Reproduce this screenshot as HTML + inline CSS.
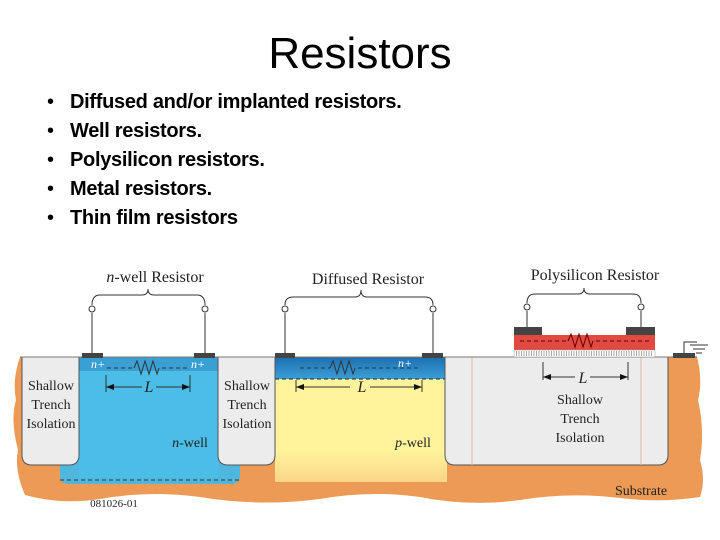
<!DOCTYPE html>
<html><head><meta charset="utf-8"><style>
body{margin:0;width:720px;height:540px;background:#fff;overflow:hidden;position:relative;font-family:"Liberation Sans",sans-serif}
h1{position:absolute;top:28px;left:0;width:720px;text-align:center;margin:0;font-weight:normal;font-size:44px;line-height:52px}
ul{position:absolute;top:90px;left:45px;margin:0;padding:0;list-style:none}
li{font-size:20px;font-weight:bold;height:29px;line-height:24px;position:relative;padding-left:25px;letter-spacing:-0.3px}
li:before{content:"•";position:absolute;left:2px;font-weight:normal}
svg{position:absolute;left:0;top:0}
</style></head><body>
<h1>Resistors</h1>
<ul><li>Diffused and/or implanted resistors.</li><li>Well resistors.</li><li>Polysilicon resistors.</li><li>Metal resistors.</li><li>Thin film resistors</li></ul>
<svg width="720" height="540" viewBox="0 0 720 540" font-family="Liberation Serif,serif">
<defs>
<linearGradient id="nb" x1="0" y1="0" x2="0" y2="1"><stop offset="0" stop-color="#1d6fb0"/><stop offset="1" stop-color="#3a9fd8"/></linearGradient>
<linearGradient id="yw" x1="0" y1="0" x2="0" y2="1"><stop offset="0.75" stop-color="#fff39c"/><stop offset="1" stop-color="#fbd58a"/></linearGradient>
</defs>
<path d="M20 357 L697 357 Q703 380 698 400 Q705 430 700 460 Q706 480 700 497 Q660 503 620 498 Q570 492 520 500 Q470 507 420 497 Q370 490 320 499 Q260 507 200 497 Q150 490 100 499 Q60 505 25 495 Q14 470 18 450 Q10 420 16 400 Q12 380 20 357Z" fill="#ec9a55"/>
<path d="M60 357 L240 357 L240 476 Q240 484 230 484 L70 484 Q60 484 60 476Z" fill="#4fb7dd"/>
<path d="M60 480 L240 480" stroke="#333" stroke-dasharray="4 3" fill="none"/>
<rect x="275" y="357" width="172" height="125" fill="url(#yw)"/>
<rect x="275" y="357" width="172" height="22" fill="url(#nb)"/>
<path d="M275 379 H447" stroke="#222" stroke-dasharray="4 3"/>
<rect x="79" y="357" width="139" height="121" fill="#4bbde6"/>
<rect x="79" y="357" width="139" height="14" fill="#3aa0d4"/>
<path d="M22 357 V455 Q22 465 32 465 H69 Q79 465 79 455 V357" fill="#ececec" stroke="#555"/>
<path d="M218 357 V455 Q218 465 228 465 H265 Q275 465 275 455 V357" fill="#ececec" stroke="#555"/>
<path d="M445 357 V455 Q445 465 455 465 H658 Q668 465 668 455 V357" fill="#ececec" stroke="#555"/>
<path d="M472 357V465M641 357V465" stroke="#e0b8a0"/>
<path d="M20 357H697" stroke="#777"/>
<g fill="#444"><rect x="82" y="353" width="21" height="5"/><rect x="194" y="353" width="21" height="5"/><rect x="275" y="353" width="20" height="5"/><rect x="422" y="353" width="21" height="5"/><rect x="673" y="353" width="22" height="5"/>
<rect x="514" y="327" width="28" height="8"/><rect x="626" y="327" width="29" height="8"/></g>
<rect x="514" y="335" width="141" height="15" fill="#e04a40"/>
<rect x="514" y="350" width="141" height="7" fill="#fff" stroke="#999" stroke-width="0.5"/>
<path d="M516 353.5H653" stroke="#aaa" stroke-width="5" stroke-dasharray="1 1.5"/>
<g stroke="#333" fill="none">
<path d="M92 313V353M205 313V353M285 313V353M433 313V353M527 311V327M641 311V327"/>
<circle cx="92" cy="309" r="3" fill="#fff"/><circle cx="205" cy="309" r="3" fill="#fff"/><circle cx="285" cy="309" r="3" fill="#fff"/><circle cx="433" cy="309" r="3" fill="#fff"/><circle cx="527" cy="307" r="3" fill="#fff"/><circle cx="641" cy="307" r="3" fill="#fff"/>
<path d="M92 305Q92 295 100 295H142Q148 295 148 289Q148 295 154 295H197Q205 295 205 305"/>
<path d="M285 305Q285 297 293 297H355Q361 297 361 290Q361 297 367 297H425Q433 297 433 305"/>
<path d="M527 303Q527 294 535 294H578Q584 294 584 288Q584 294 590 294H633Q641 294 641 303"/>
<path d="M107 368H134" stroke-dasharray="4 3"/><path d="M162 368H190" stroke-dasharray="4 3"/>
<path d="M134 368l3-7 4 13 4-13 4 13 4-13 4 13 2-6"/>
<path d="M300 368H330" stroke-dasharray="4 3"/><path d="M358 368H420" stroke-dasharray="4 3"/>
<path d="M330 368l3-7 4 13 4-13 4 13 4-13 4 13 2-6"/>
<path d="M520 341H568" stroke-dasharray="4 3" stroke="#600"/><path d="M596 341H650" stroke-dasharray="4 3" stroke="#600"/>
<path d="M568 341l3-7 4 13 4-13 4 13 4-13 4 13 2-6" stroke="#600"/>
<path d="M106 375V392M190 375V392M106 387H142M156 387H190M296 380V392M422 380V392M296 387H350M370 387H422M543 362V380M628 362V380M543 377H575M590 377H628"/>
<path d="M684 353V342H697M690 345H708M693 349H705M696 353H702"/>
</g>
<g fill="#111"><path d="M106 387l8-3v6z"/><path d="M190 387l-8-3v6z"/><path d="M296 387l8-3v6z"/><path d="M422 387l-8-3v6z"/><path d="M543 377l8-3v6z"/><path d="M628 377l-8-3v6z"/></g>
<g font-size="16" fill="#222" text-anchor="middle">
<text x="155" y="282"><tspan font-style="italic">n</tspan>-well Resistor</text>
<text x="368" y="284">Diffused Resistor</text>
<text x="595" y="280">Polysilicon Resistor</text>
</g>
<g font-size="14" fill="#222" text-anchor="middle">
<text x="51" y="390">Shallow</text><text x="51" y="409">Trench</text><text x="51" y="428">Isolation</text>
<text x="247" y="390">Shallow</text><text x="247" y="409">Trench</text><text x="247" y="428">Isolation</text>
<text x="580" y="404">Shallow</text><text x="580" y="423">Trench</text><text x="580" y="442">Isolation</text>
<text x="190" y="447" font-style="italic">n<tspan font-style="normal">-well</tspan></text>
<text x="413" y="447" font-style="italic">p<tspan font-style="normal">-well</tspan></text>
<text x="641" y="495">Substrate</text>
<text x="149" y="392" font-style="italic" font-size="16">L</text>
<text x="362" y="392" font-style="italic" font-size="16">L</text>
<text x="583" y="383" font-style="italic" font-size="16">L</text>
<text x="114" y="507" font-size="11">081026-01</text>
<text x="98" y="368" font-size="12" font-style="italic" fill="#fff">n+</text>
<text x="198" y="368" font-size="12" font-style="italic" fill="#fff">n+</text>
<text x="405" y="367" font-size="12" font-style="italic" fill="#fff">n+</text>
</g>
</svg>
</body></html>
